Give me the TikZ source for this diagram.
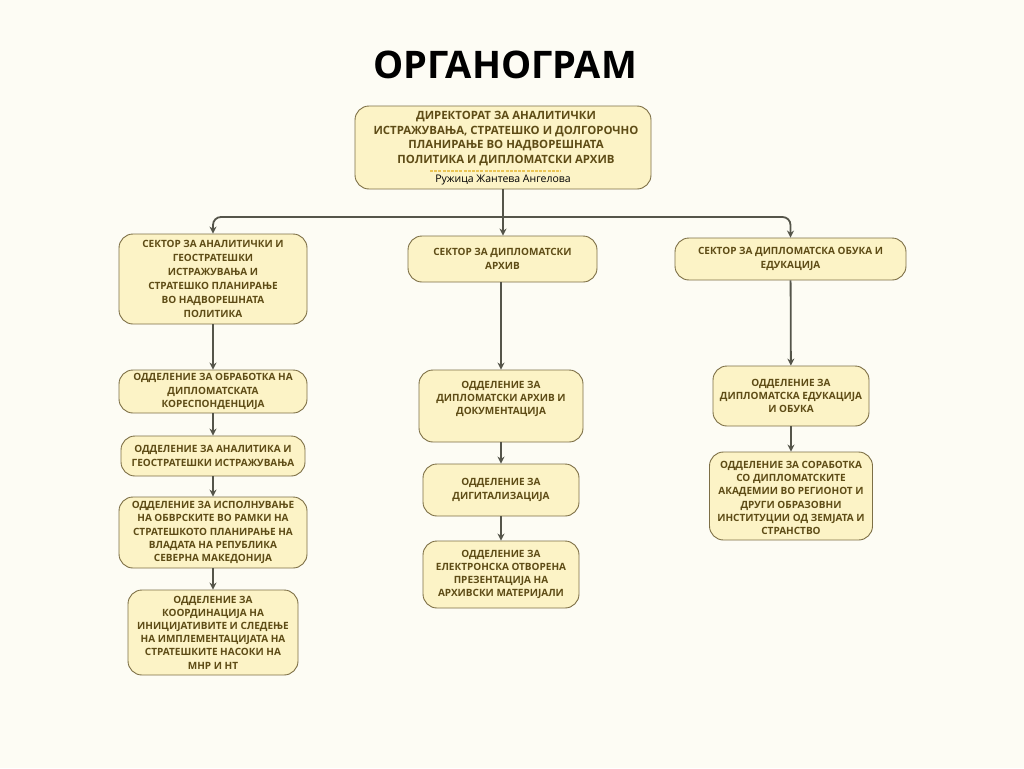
\documentclass[tikz,border=0pt]{standalone}
\usepackage{fontspec}
\setmainfont{Open Sans}
\usetikzlibrary{arrows.meta,calc}
\definecolor{bgc}{HTML}{FDFCF4}
\definecolor{boxfill}{HTML}{FCF3C6}
\definecolor{boxline}{HTML}{7D6F45}
\definecolor{txt}{HTML}{5E4C16}
\definecolor{arr}{HTML}{55554A}
\definecolor{dashc}{HTML}{EAC555}
\tikzset{
  box/.style={draw=boxline, line width=0.9pt, fill=boxfill, rounded corners=14pt,
    align=center, text=txt, inner sep=0pt,
    font=\fontsize{10}{13.2}\selectfont\bfseries},
  topbox/.style={box},
  conn/.style={draw=arr, line width=1.8pt, -{Stealth[length=7pt,width=7pt]}},
  plain/.style={draw=arr, line width=1.8pt},
}
\begin{document}
\begin{tikzpicture}[x=1pt,y=-1pt]
\fill[bgc] (0,0) rectangle (1024,768);
\useasboundingbox (0,0) rectangle (1024,768);

\node[font=\fontsize{38}{40}\selectfont\bfseries, text=black] (title) at (505,65) {ОРГАНОГРАМ};

% top box
\node[topbox, minimum width=296pt, minimum height=83pt] (top) at (503,147.5) {};
\node[font=\fontsize{11.4}{14.4}\selectfont\bfseries, text=txt, align=center] (toptxt) at (506,138.5)
  {ДИРЕКТОРАТ ЗА АНАЛИТИЧКИ\\ИСТРАЖУВАЊА, СТРАТЕШКО И ДОЛГОРОЧНО\\ПЛАНИРАЊЕ ВО НАДВОРЕШНАТА\\ПОЛИТИКА И ДИПЛОМАТСКИ АРХИВ};
\node[font=\fontsize{10.5}{12}\selectfont, text=black] (name) at (503,180) {Ружица Жантева Ангелова};
\draw[dashc, line width=1.2pt, dash pattern=on 3pt off 1.2pt] (430,171) -- (561,171);

% sectors
\node[box, minimum width=188pt, minimum height=90pt, font=\fontsize{10}{14}\selectfont\bfseries] (s1) at (213,279)
  {СЕКТОР ЗА АНАЛИТИЧКИ И\\ГЕОСТРАТЕШКИ\\ИСТРАЖУВАЊА И\\СТРАТЕШКО ПЛАНИРАЊЕ\\ВО НАДВОРЕШНАТА\\ПОЛИТИКА};
\node[box, minimum width=189pt, minimum height=46pt, font=\fontsize{10}{14}\selectfont\bfseries] (s2) at (502.5,259)
  {СЕКТОР ЗА ДИПЛОМАТСКИ\\АРХИВ};
\node[box, minimum width=231pt, minimum height=42pt, font=\fontsize{10}{14}\selectfont\bfseries] (s3) at (790.5,259)
  {СЕКТОР ЗА ДИПЛОМАТСКА ОБУКА И\\ЕДУКАЦИЈА};

% left column
\node[box, minimum width=188pt, minimum height=43pt] (d1) at (213,391.5)
  {ОДДЕЛЕНИЕ ЗА ОБРАБОТКА НА\\ДИПЛОМАТСКАТА\\КОРЕСПОНДЕНЦИЈА};
\node[box, minimum width=184pt, minimum height=40pt] (d2) at (213,456)
  {ОДДЕЛЕНИЕ ЗА АНАЛИТИКА И\\ГЕОСТРАТЕШКИ ИСТРАЖУВАЊА};
\node[box, minimum width=188pt, minimum height=71pt] (d3) at (213,532.5)
  {ОДДЕЛЕНИЕ ЗА ИСПОЛНУВАЊЕ\\НА ОБВРСКИТЕ ВО РАМКИ НА\\СТРАТЕШКОТО ПЛАНИРАЊЕ НА\\ВЛАДАТА НА РЕПУБЛИКА\\СЕВЕРНА МАКЕДОНИЈА};
\node[box, minimum width=170pt, minimum height=85pt] (d4) at (213,632.5)
  {ОДДЕЛЕНИЕ ЗА\\КООРДИНАЦИЈА НА\\ИНИЦИЈАТИВИТЕ И СЛЕДЕЊЕ\\НА ИМПЛЕМЕНТАЦИЈАТА НА\\СТРАТЕШКИТЕ НАСОКИ НА\\МНР И НТ};

% middle column
\node[box, minimum width=164pt, minimum height=72pt] (m1) at (501,406)
  {ОДДЕЛЕНИЕ ЗА\\ДИПЛОМАТСКИ АРХИВ И\\ДОКУМЕНТАЦИЈА\\[3pt]};
\node[box, minimum width=156pt, minimum height=52pt] (m2) at (501,490)
  {ОДДЕЛЕНИЕ ЗА\\ДИГИТАЛИЗАЦИЈА};
\node[box, minimum width=156pt, minimum height=67pt] (m3) at (501,574.5)
  {ОДДЕЛЕНИЕ ЗА\\ЕЛЕКТРОНСКА ОТВОРЕНА\\ПРЕЗЕНТАЦИЈА НА\\АРХИВСКИ МАТЕРИЈАЛИ};

% right column
\node[box, minimum width=156pt, minimum height=60pt] (r1) at (791,396)
  {ОДДЕЛЕНИЕ ЗА\\ДИПЛОМАТСКА ЕДУКАЦИЈА\\И ОБУКА};
\node[box, minimum width=163pt, minimum height=88pt] (r2) at (791,496)
  {\\[-2pt]ОДДЕЛЕНИЕ ЗА СОРАБОТКА\\СО ДИПЛОМАТСКИТЕ\\АКАДЕМИИ ВО РЕГИОНОТ И\\ДРУГИ ОБРАЗОВНИ\\ИНСТИТУЦИИ ОД ЗЕМЈАТА И\\СТРАНСТВО};

% connectors
\coordinate (j) at (503,217);
\draw[plain] (top.south) -- (j);
\draw[conn, rounded corners=8pt] (j) -| (s1.north);
\draw[conn, rounded corners=8pt] (j) -| (s3.north);
\draw[conn] (j) -- (s2.north -| j);

\draw[conn] (s1) -- (d1);
\draw[conn] (d1) -- (d2);
\draw[conn] (d2) -- (d3);
\draw[conn] (d3) -- (d4);

\draw[conn] (s2.south -| m1) -- (m1);
\draw[conn] (m1) -- (m2);
\draw[conn] (m2) -- (m3);

\draw[conn] (s3) -- (r1);
\draw[conn] (r1) -- (r2);
\end{tikzpicture}
\end{document}
